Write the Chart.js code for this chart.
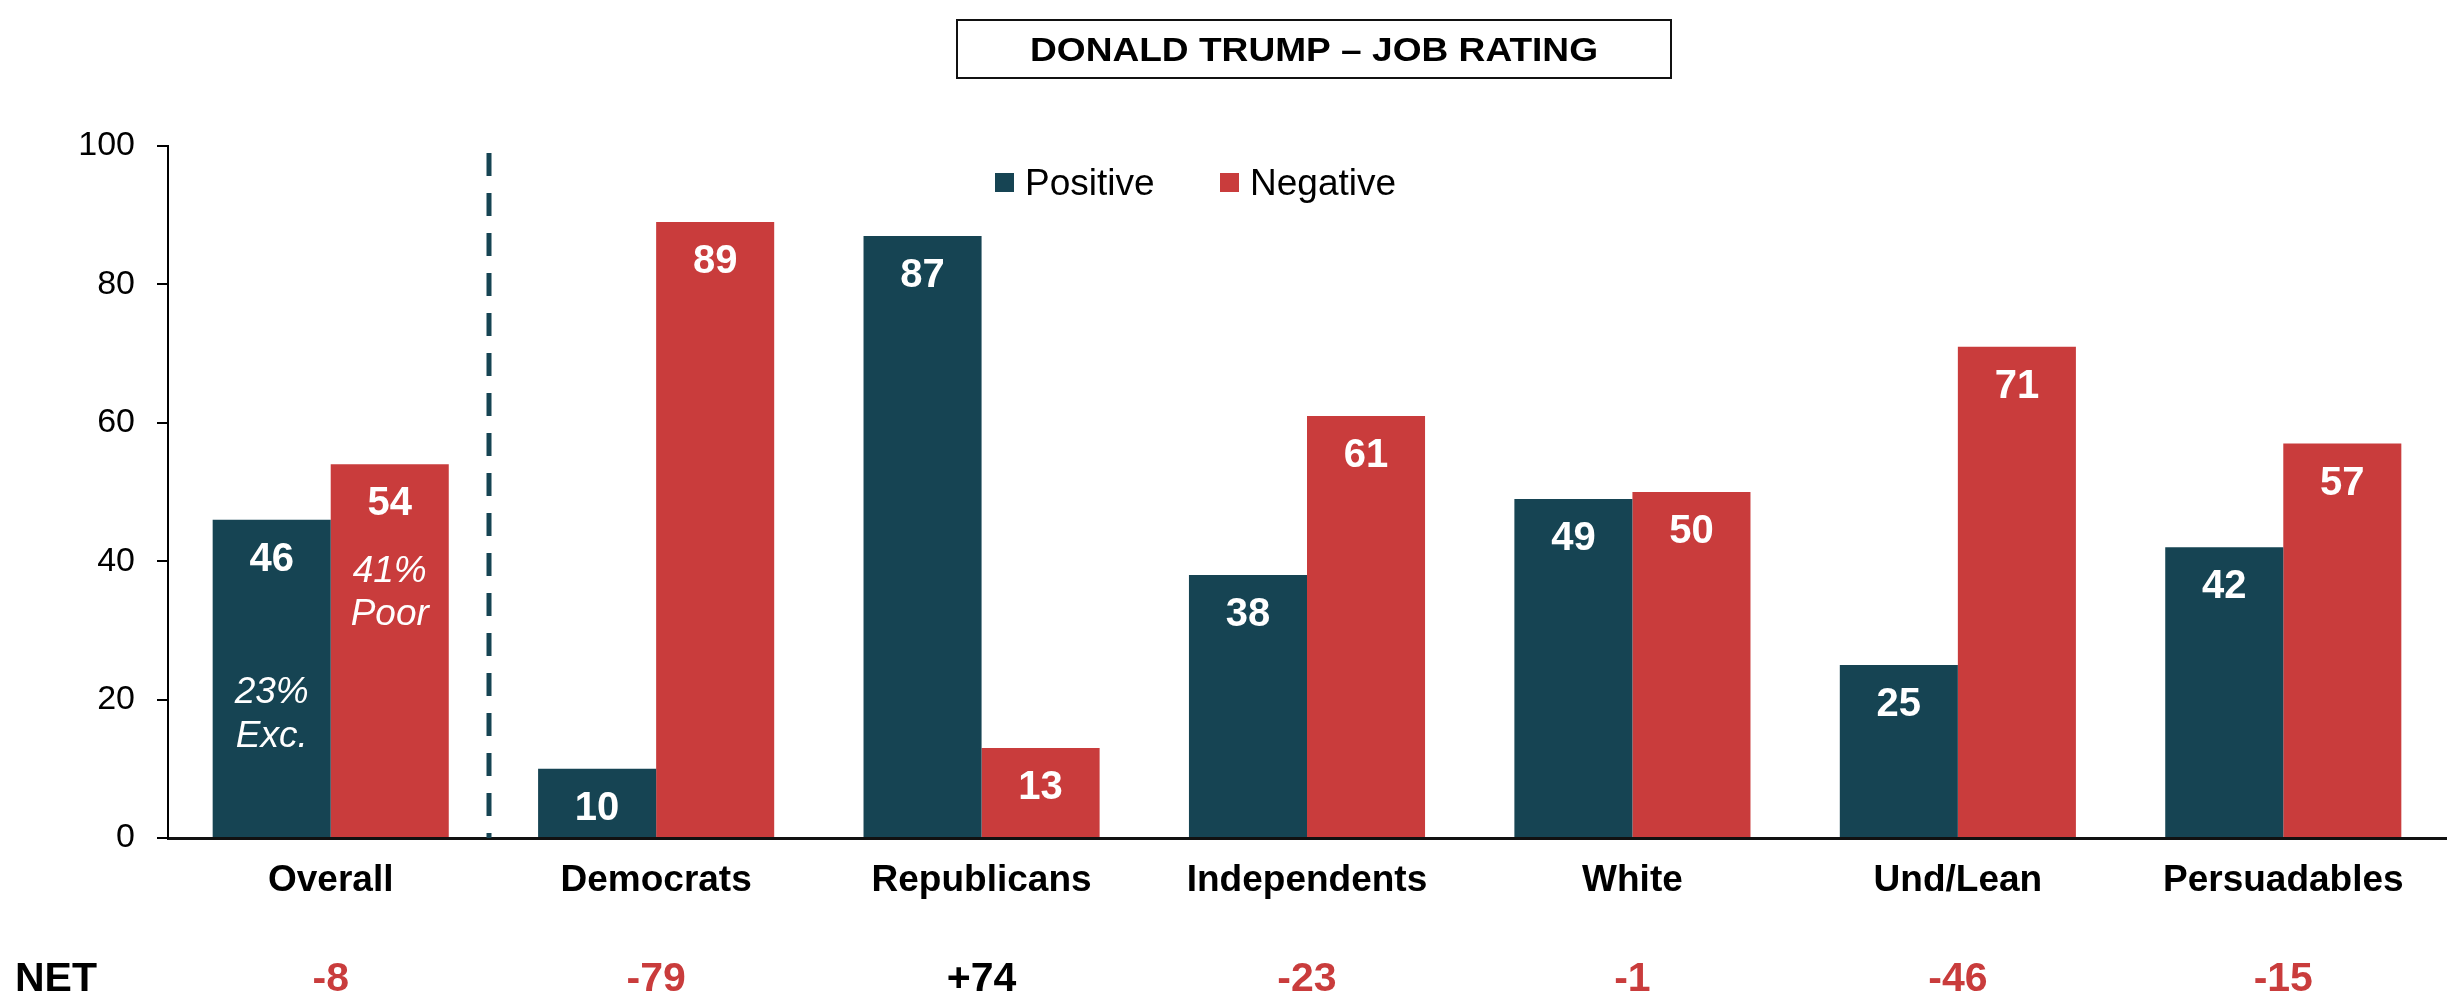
<!DOCTYPE html>
<html>
<head>
<meta charset="utf-8">
<title>Donald Trump – Job Rating</title>
<script src="https://cdn.jsdelivr.net/npm/chart.js@4.4.1/dist/chart.umd.min.js"></script>
<style>
    html, body { margin: 0; padding: 0; background: #fff; }
    canvas { display: block; }
</style>
</head>
<body>
<canvas id="chartJobRating" width="2453" height="994"></canvas>
<script>
const chartTitle = 'DONALD TRUMP \u2013 JOB RATING';
const categories = ['Overall', 'Democrats', 'Republicans', 'Independents', 'White', 'Und/Lean', 'Persuadables'];
const positive = [46, 10, 87, 38, 49, 25, 42];
const negative = [54, 89, 13, 61, 50, 71, 57];
const netScores = [-8, -79, 74, -23, -1, -46, -15];
const yTicks = [0, 20, 40, 60, 80, 100];

const TEAL = '#164453';
const RED = '#C93C3C';
const FONT = '"Liberation Sans", Arial, Helvetica, sans-serif';

Chart.defaults.font.family = FONT;
Chart.defaults.color = '#000';

// boxed title above the plot, stretched a little wider than plain bold
const titleBox = {
    id: 'titleBox',
    afterDraw(chart) {
        const ctx = chart.ctx;
        ctx.save();
        ctx.strokeStyle = '#111';
        ctx.lineWidth = 2;
        ctx.strokeRect(957, 20, 714, 58);
        ctx.font = 'bold 33px ' + FONT;
        ctx.fillStyle = '#000';
        ctx.textAlign = 'center';
        ctx.textBaseline = 'alphabetic';
        const sx = 568 / ctx.measureText(chartTitle).width;
        ctx.translate(1314, 61);
        ctx.scale(sx, 1);
        ctx.fillText(chartTitle, 0, 0);
        ctx.restore();
    }
};

// legend sitting inside the plot area
const insideLegend = {
    id: 'insideLegend',
    afterDraw(chart) {
        const ctx = chart.ctx;
        const spots = [995, 1220];
        ctx.save();
        ctx.font = '37px ' + FONT;
        ctx.textBaseline = 'alphabetic';
        ctx.textAlign = 'left';
        chart.data.datasets.forEach((ds, i) => {
            ctx.fillStyle = ds.backgroundColor;
            ctx.fillRect(spots[i], 173, 19, 19);
            ctx.fillStyle = '#000';
            ctx.fillText(ds.label, spots[i] + 30, 195);
        });
        ctx.restore();
    }
};

// dashed separator between Overall and the subgroups
const divider = {
    id: 'divider',
    afterDatasetsDraw(chart) {
        const { ctx, scales: { x, y } } = chart;
        const px = Math.round(x.getPixelForValue(0.5)) - 4;
        ctx.save();
        ctx.strokeStyle = TEAL;
        ctx.lineWidth = 5;
        ctx.setLineDash([23, 17]);
        ctx.beginPath();
        ctx.moveTo(px, y.getPixelForValue(99));
        ctx.lineTo(px, y.getPixelForValue(0));
        ctx.stroke();
        ctx.restore();
    }
};

// white value labels just inside the top of each bar
const barValues = {
    id: 'barValues',
    afterDatasetsDraw(chart) {
        const ctx = chart.ctx;
        ctx.save();
        ctx.font = 'bold 40px ' + FONT;
        ctx.fillStyle = '#fff';
        ctx.textAlign = 'center';
        ctx.textBaseline = 'alphabetic';
        chart.data.datasets.forEach((ds, di) => {
            chart.getDatasetMeta(di).data.forEach((bar, i) => {
                ctx.fillText(String(ds.data[i]), bar.x, bar.y + 51);
            });
        });
        ctx.restore();
    }
};

// italic notes inside the Overall bars
const overallNotes = {
    id: 'overallNotes',
    afterDatasetsDraw(chart, args, opts) {
        const ctx = chart.ctx;
        const y = chart.scales.y;
        ctx.save();
        ctx.font = 'italic 37px ' + FONT;
        ctx.fillStyle = '#fff';
        ctx.textAlign = 'center';
        ctx.textBaseline = 'alphabetic';
        opts.notes.forEach(n => {
            const bar = chart.getDatasetMeta(n.dataset).data[n.index];
            const y0 = y.getPixelForValue(n.at);
            n.lines.forEach((line, k) => ctx.fillText(line, bar.x, y0 + k * 43.5));
        });
        ctx.restore();
    }
};

// NET row under the category labels
const netRow = {
    id: 'netRow',
    afterDraw(chart) {
        const { ctx, scales: { x } } = chart;
        ctx.save();
        ctx.font = 'bold 41px ' + FONT;
        ctx.textBaseline = 'alphabetic';
        ctx.textAlign = 'left';
        ctx.fillStyle = '#000';
        ctx.fillText('NET', 15, 991);
        ctx.textAlign = 'center';
        netScores.forEach((v, i) => {
            ctx.fillStyle = v < 0 ? RED : '#000';
            ctx.fillText((v > 0 ? '+' : '') + v, x.getPixelForValue(i), 991);
        });
        ctx.restore();
    }
};

new Chart(document.getElementById('chartJobRating'), {
    type: 'bar',
    data: {
        labels: categories,
        datasets: [
            {
                label: 'Positive',
                data: positive,
                backgroundColor: TEAL,
                categoryPercentage: 0.7255,
                barPercentage: 1.0
            },
            {
                label: 'Negative',
                data: negative,
                backgroundColor: RED,
                categoryPercentage: 0.7255,
                barPercentage: 1.0
            }
        ]
    },
    options: {
        responsive: false,
        devicePixelRatio: 1,
        animation: false,
        layout: {
            padding: { top: 146, right: 7, left: 0, bottom: 0 }
        },
        plugins: {
            legend: { display: false },
            tooltip: { enabled: false },
            overallNotes: {
                notes: [
                    { dataset: 1, index: 0, lines: ['41%', 'Poor'], at: 37 },
                    { dataset: 0, index: 0, lines: ['23%', 'Exc.'], at: 19.5 }
                ]
            }
        },
        scales: {
            x: {
                offset: true,
                grid: { display: false, drawTicks: false },
                border: { display: true, color: '#111', width: 3 },
                ticks: {
                    padding: 21,
                    color: '#000',
                    font: { size: 37, weight: 'bold' },
                    maxRotation: 0,
                    autoSkip: false
                },
                afterFit(scale) { scale.height = 156; }
            },
            y: {
                min: 0,
                max: 100,
                afterBuildTicks(scale) {
                    scale.ticks = yTicks.map(v => ({ value: v }));
                },
                grid: {
                    drawOnChartArea: false,
                    drawTicks: true,
                    tickLength: 11,
                    color: '#000',
                    lineWidth: 2
                },
                border: { display: true, color: '#000', width: 2 },
                ticks: {
                    padding: 22,
                    color: '#000',
                    font: { size: 34 }
                },
                afterFit(scale) { scale.width = 168; }
            }
        }
    },
    plugins: [titleBox, insideLegend, divider, barValues, overallNotes, netRow]
});
</script>
</body>
</html>
